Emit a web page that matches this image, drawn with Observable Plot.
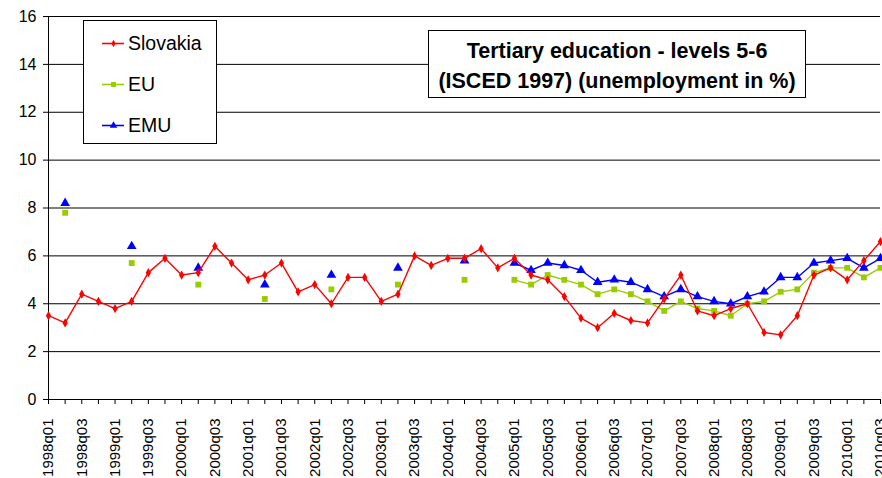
<!DOCTYPE html>
<html><head><meta charset="utf-8">
<script src="https://cdn.jsdelivr.net/npm/d3@7"></script>
<script src="https://cdn.jsdelivr.net/npm/@observablehq/plot@0.6"></script>
<style>
body{margin:0;background:#fff;font-family:Arial,"Liberation Sans",sans-serif;}
#wrap{position:relative;width:882px;height:478px;overflow:hidden;}
#legend{position:absolute;left:83px;top:20px;width:134px;height:124px;border:1px solid #000;background:#fff;box-sizing:border-box;}
.li{position:absolute;left:0;height:24px;width:130px;}
.li svg{position:absolute;left:18px;top:6px;}
.li span{position:absolute;left:44px;top:0;font-size:19.5px;line-height:24px;color:#000;}
#title{position:absolute;left:428px;top:30px;width:378px;height:68px;border:1px solid #000;background:#fff;box-sizing:border-box;text-align:center;font-weight:bold;font-size:21.5px;line-height:30px;padding-top:5px;color:#000;white-space:nowrap;}
</style></head>
<body>
<div id="wrap">
<div id="chart"></div>
<div id="legend"></div>
<div id="title">Tertiary education - levels 5-6<br>(ISCED 1997) (unemployment in %)</div>
</div>
<script>
const quarters = ["1998q01","1998q02","1998q03","1998q04","1999q01","1999q02","1999q03","1999q04",
"2000q01","2000q02","2000q03","2000q04","2001q01","2001q02","2001q03","2001q04",
"2002q01","2002q02","2002q03","2002q04","2003q01","2003q02","2003q03","2003q04",
"2004q01","2004q02","2004q03","2004q04","2005q01","2005q02","2005q03","2005q04",
"2006q01","2006q02","2006q03","2006q04","2007q01","2007q02","2007q03","2007q04",
"2008q01","2008q02","2008q03","2008q04","2009q01","2009q02","2009q03","2009q04",
"2010q01","2010q02","2010q03"];
const slovakia = [3.5,3.2,4.4,4.1,3.8,4.1,5.3,5.9,5.2,5.3,6.4,5.7,5.0,5.2,5.7,4.5,
4.8,4.0,5.1,5.1,4.1,4.4,6.0,5.6,5.9,5.9,6.3,5.5,5.9,5.2,5.0,4.3,
3.4,3.0,3.6,3.3,3.2,4.2,5.2,3.7,3.5,3.8,4.0,2.8,2.7,3.5,5.2,5.5,5.0,5.8,6.6];
const eu = [null,7.8,null,null,null,5.7,null,null,null,4.8,null,null,null,4.2,null,null,
null,4.6,null,null,null,4.8,null,null,null,5.0,null,null,
5.0,4.8,5.2,5.0,4.8,4.4,4.6,4.4,4.1,3.7,4.1,3.8,3.7,3.5,4.0,4.1,4.5,4.6,5.3,5.5,5.5,5.1,5.5];
const emu = [null,8.2,null,null,null,6.4,null,null,null,5.5,null,null,null,4.8,null,null,
null,5.2,null,null,null,5.5,null,null,null,5.8,null,null,
5.7,5.4,5.7,5.6,5.4,4.9,5.0,4.9,4.6,4.3,4.6,4.3,4.1,4.0,4.3,4.5,5.1,5.1,5.7,5.8,5.9,5.5,5.9];
const yTicks = [0,2,4,6,8,10,12,14,16];
const seriesNames = ["Slovakia","EU","EMU"];
const colors = ["#ff0000","#99cc00","#0000ff"];
const symbols = ["diamond","square","triangle"];

const allSeries = [slovakia, eu, emu];
const rows = allSeries.map(s => s.map((v,i) => ({i, v})));
const pts = rows.map(r => r.filter(d => d.v != null));

const marks = [
  Plot.ruleY(yTicks.filter(d => d > 0), {stroke:"#000", strokeWidth:1}),
  Plot.ruleX([0], {stroke:"#000"}),
  Plot.ruleY([0], {stroke:"#000"}),
  Plot.axisY(yTicks, {tickSize:5, tickPadding:7, fontSize:16, stroke:"#000", label:null}),
  Plot.axisX(d3.range(quarters.length), {tickSize:5, tickPadding:14, tickRotate:-90, fontSize:15, label:null,
    tickFormat: i => i % 2 === 0 ? quarters[i] : ""})
];
[1,2,0].forEach(k => {
  marks.push(Plot.line(rows[k], {x:"i", y:"v", stroke:colors[k], strokeWidth:1.4}));
  marks.push(Plot.dot(pts[k], {x:"i", y:"v", symbol:()=>symbols[k], fill:colors[k], stroke:"none", r: k===0 ? 2.8 : (k===1 ? 3.3 : 3.6)}));
});

const chart = Plot.plot({
  width:882, height:478,
  marginLeft:48, marginRight:2, marginTop:16, marginBottom:79,
  x:{type:"linear", domain:[0,50], axis:null, label:null},
  y:{domain:[0,16], axis:null, label:null},
  style:{fontFamily:"Arial, 'Liberation Sans', sans-serif", color:"#000", background:"transparent", overflow:"visible"},
  marks
});
document.getElementById("chart").appendChild(chart);

// legend
const lg = document.getElementById("legend");
const centers = [42, 83, 124];
seriesNames.forEach((name, k) => {
  const d = document.createElement("div");
  d.className = "li";
  d.style.top = (centers[k] - 20 - 12) + "px";
  const sw = Plot.plot({width:22, height:12, margin:0, x:{domain:[0,1], axis:null}, y:{domain:[0,1], axis:null},
    style:{background:"transparent", overflow:"visible"},
    marks:[Plot.ruleY([0.5], {stroke:colors[k], strokeWidth:1.6}),
           Plot.dot([0.5], {x:d=>d, y:()=>0.5, symbol:()=>symbols[k], fill:colors[k], r: k===0?2.2:2.8})]});
  d.appendChild(sw);
  const s = document.createElement("span");
  s.textContent = name;
  d.appendChild(s);
  lg.appendChild(d);
});
</script>
</body></html>
